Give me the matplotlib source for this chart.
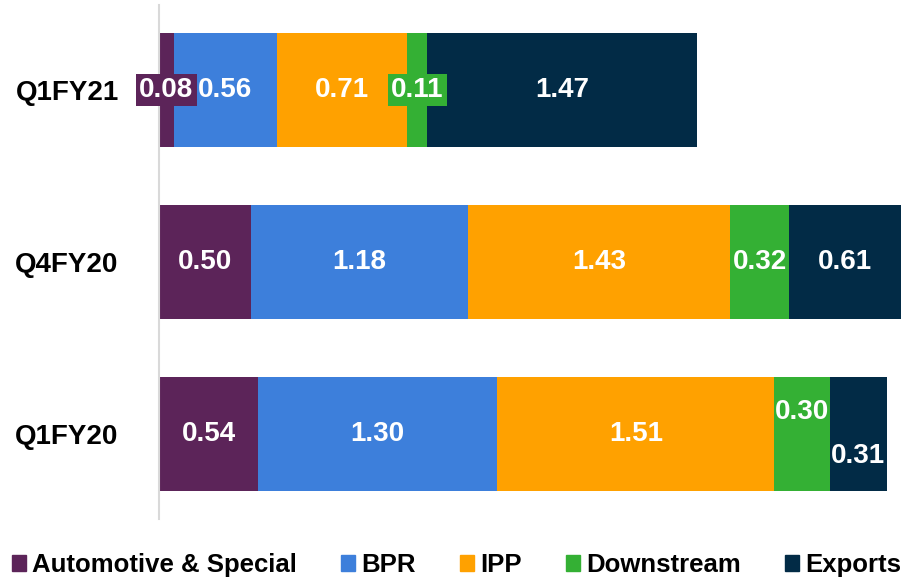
import numpy as np
import matplotlib.pyplot as plt

plt.rcParams['font.family'] = ['Liberation Sans', 'DejaVu Sans']
plt.rcParams['font.weight'] = 'bold'

periods = ['Q1FY20', 'Q4FY20', 'Q1FY21']
segments = ['Automotive & Special', 'BPR', 'IPP', 'Downstream', 'Exports']
values = {
    'Automotive & Special': [0.54, 0.50, 0.08],
    'BPR': [1.30, 1.18, 0.56],
    'IPP': [1.51, 1.43, 0.71],
    'Downstream': [0.30, 0.32, 0.11],
    'Exports': [0.31, 0.61, 1.47],
}
colors = ['#5c2459', '#3d7fdb', '#ffa100', '#34b034', '#022b46']

fig = plt.figure(figsize=(9.04, 5.81), dpi=100)
ax = fig.add_axes([159 / 904, 62 / 581, 745 / 904, 514 / 581])

y = np.arange(len(periods))
left = np.zeros(len(periods))
for seg, col in zip(segments, colors):
    vals = np.array(values[seg])
    ax.barh(y, vals, left=left, height=0.663, color=col, edgecolor='none')
    for i, v in enumerate(vals):
        cx = left[i] + v / 2
        cy = y[i]
        box = None
        # small segments get a coloured box behind the label
        if v < 0.2:
            box = dict(boxstyle='square,pad=0.12', facecolor=col, edgecolor='none')
        if seg == 'Downstream' and periods[i] == 'Q1FY20':
            cy = y[i] + 0.13
        if seg == 'Exports' and periods[i] == 'Q1FY20':
            cy = y[i] - 0.13
            box = dict(boxstyle='square,pad=0.05', facecolor=col, edgecolor='none')
        ax.text(cx, cy, f'{v:.2f}', ha='center', va='center', color='white',
                fontsize=20, fontweight='bold', bbox=box)
    left += vals

ax.set_xlim(0, 4.055)
ax.set_ylim(-0.494, 2.494)
ax.set_yticks(y)
ax.set_yticklabels(periods, fontsize=20, fontweight='bold')
ax.tick_params(axis='y', length=0, pad=29)
ax.set_xticks([])
for s in ['top', 'right', 'bottom']:
    ax.spines[s].set_visible(False)
ax.spines['left'].set_color('#d9d9d9')
ax.spines['left'].set_linewidth(1.5)

handles = [plt.Rectangle((0, 0), 1, 1, color=c) for c in colors]
fig.legend(handles, segments, loc='center', bbox_to_anchor=(0.505, 16 / 581), ncol=5,
           frameon=False, fontsize=18.5, handlelength=0.55, handleheight=0.55,
           handletextpad=0.25, columnspacing=1.7, borderaxespad=0)

fig.savefig('out.png', dpi=100)
